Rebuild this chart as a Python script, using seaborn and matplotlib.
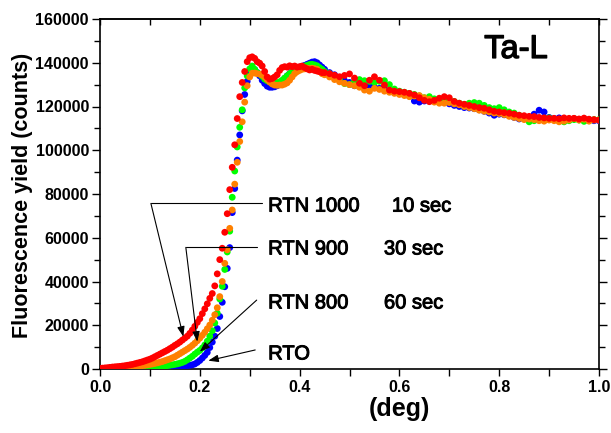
import numpy as np
import pandas as pd
import matplotlib
matplotlib.use("Agg")
import matplotlib.pyplot as plt
import matplotlib.patheffects as pe
import seaborn as sns
from matplotlib.ticker import MultipleLocator

# ---------------- data (fluorescence yield in thousands of counts) ----------------
# sampling grid of the measurement (deg)
x_head = np.round(np.arange(0.0, 0.4451, 0.005), 3)   # 0.000 ... 0.445
x_tail = np.round(np.arange(0.45, 1.0001, 0.01), 2)   # 0.45 ... 1.00

series_names = ["RTO", "RTN 800", "RTN 900", "RTN 1000"]
series_colors = ["#0000ff", "#00ff00", "#ff8000", "#ff0000"]

rto_head = [0.02, 0.02, 0.03, 0.03, 0.04, 0.05, 0.06, 0.07, 0.08, 0.09,
            0.10, 0.11, 0.13, 0.15, 0.17, 0.19, 0.21, 0.24, 0.27, 0.30,
            0.33, 0.37, 0.41, 0.45, 0.50, 0.55, 0.61, 0.68, 0.75, 0.83,
            0.92, 1.02, 1.13, 1.25, 1.40, 1.55, 1.70, 1.90, 2.30, 3.00,
            3.90, 5.00, 6.20, 7.60, 9.80, 12.3, 15.0, 18.5, 24.0, 30.5,
            37.6, 46.0, 55.5, 71.5, 82.5, 95.5, 107.0, 118.0, 125.5, 131.5,
            135.5, 137.4, 136.8, 135.5, 134.0, 132.0, 130.5, 129.3, 128.8, 128.8,
            129.0, 129.5, 130.3, 131.5, 132.8, 134.0, 135.0, 136.0, 136.8, 137.5,
            138.0, 138.3, 138.8, 139.3, 139.8, 140.3, 140.5, 140.0, 139.0, 138.0]
rto_tail = [137.0, 135.5, 134.5, 133.0, 131.8, 131.0, 129.5, 129.8, 130.5, 129.5,
            128.8, 128.3, 128.0, 127.3, 126.5, 126.0, 125.5, 124.8, 122.5, 122.0,
            122.5, 123.0, 122.8, 122.3, 122.0, 121.2, 120.5, 120.0, 119.5, 119.3,
            119.0, 118.5, 117.8, 117.0, 116.0, 116.5, 116.2, 115.8, 115.0, 114.3,
            114.5, 115.0, 116.5, 118.3, 117.5, 115.0, 114.5, 114.8, 114.3, 114.0,
            114.4, 114.0, 113.8, 114.0, 113.5, 113.5]

rtn800_head = [0.05, 0.06, 0.07, 0.08, 0.10, 0.12, 0.14, 0.16, 0.18, 0.20,
               0.23, 0.26, 0.30, 0.34, 0.38, 0.43, 0.48, 0.54, 0.60, 0.67,
               0.75, 0.84, 0.93, 1.03, 1.14, 1.26, 1.40, 1.55, 1.72, 1.90,
               2.10, 2.35, 2.65, 3.00, 3.50, 4.20, 5.00, 5.80, 6.80, 7.70,
               8.50, 9.60, 11.0, 12.7, 15.0, 17.5, 21.0, 25.5, 32.0, 37.8,
               45.5, 53.5, 63.0, 78.5, 90.5, 101.5, 110.5, 118.5, 128.5, 134.0,
               137.2, 138.5, 137.0, 135.5, 134.8, 133.8, 132.5, 131.8, 131.2, 130.8,
               130.5, 130.8, 131.3, 132.0, 133.0, 134.0, 135.0, 135.8, 136.5, 137.0,
               137.6, 138.2, 138.5, 138.8, 139.2, 139.3, 139.0, 138.6, 137.8, 137.0]
rtn800_tail = [136.0, 135.0, 133.8, 132.5, 130.5, 130.0, 131.5, 132.3, 131.8, 131.5,
               131.0, 131.5, 131.8, 130.0, 128.0, 127.0, 126.5, 126.0, 125.5, 124.8,
               124.0, 124.5, 123.5, 123.0, 123.5, 123.0, 122.3, 121.5, 121.0, 121.5,
               121.8, 121.5, 120.5, 119.5, 119.0, 119.5, 118.5, 117.5, 117.0, 116.0,
               114.5, 113.0, 113.5, 114.0, 114.5, 114.8, 114.0, 113.5, 113.0, 113.5,
               114.0, 113.8, 113.2, 113.5, 114.0, 114.0]

rtn900_head = [0.10, 0.15, 0.20, 0.25, 0.30, 0.35, 0.40, 0.45, 0.50, 0.60,
               0.70, 0.80, 0.90, 1.00, 1.10, 1.25, 1.40, 1.55, 1.70, 1.90,
               2.10, 2.30, 2.55, 2.80, 3.10, 3.40, 3.80, 4.20, 4.60, 5.10,
               5.60, 6.30, 7.00, 7.70, 8.40, 9.10, 9.90, 10.8, 11.8, 12.9,
               14.1, 15.4, 16.8, 18.4, 20.1, 22.3, 24.8, 28.0, 33.1, 40.0,
               48.3, 54.5, 64.3, 72.7, 84.5, 94.5, 104.0, 113.0, 122.0, 129.5,
               133.5, 135.2, 135.3, 135.0, 134.8, 134.4, 133.5, 132.3, 131.2, 130.3,
               129.8, 129.7, 129.8, 129.8, 130.2, 130.8, 132.0, 133.5, 135.0, 135.9,
               136.5, 137.0, 137.2, 137.5, 137.3, 137.5, 137.3, 137.0, 136.0, 135.0]
rtn900_tail = [134.5, 133.5, 132.3, 131.3, 130.6, 130.0, 129.5, 128.8, 127.5, 127.0,
               128.3, 127.8, 127.0, 126.5, 126.0, 125.5, 125.0, 124.5, 124.8, 125.0,
               124.0, 123.3, 122.0, 121.5, 121.5, 121.8, 121.2, 120.8, 120.0, 119.5,
               119.0, 118.3, 117.8, 117.5, 117.0, 116.8, 116.3, 115.5, 115.0, 114.5,
               114.0, 114.3, 114.0, 113.5, 113.3, 113.8, 113.5, 113.0, 113.3, 113.8,
               114.5, 113.8, 114.2, 113.3, 113.8, 113.8]

rtn1000_head = [0.30, 0.40, 0.50, 0.60, 0.75, 0.90, 1.00, 1.10, 1.20, 1.35,
                1.50, 1.70, 1.90, 2.10, 2.40, 2.70, 3.00, 3.30, 3.70, 4.10,
                4.50, 5.00, 5.60, 6.20, 6.80, 7.40, 8.00, 8.60, 9.30, 10.0,
                10.8, 11.5, 12.3, 13.2, 14.1, 15.0, 16.3, 17.8, 19.5, 21.3,
                23.0, 25.3, 27.5, 29.8, 32.3, 34.5, 38.0, 43.5, 50.0, 55.2,
                62.5, 71.0, 82.0, 92.2, 102.5, 114.5, 124.5, 131.0, 136.0, 140.5,
                142.3, 142.7, 142.0, 140.5, 139.8, 138.5, 136.0, 133.5, 132.5, 132.8,
                133.5, 134.5, 136.5, 137.8, 138.2, 138.0, 138.6, 138.2, 138.5, 138.0,
                138.2, 138.5, 137.8, 137.2, 136.7, 137.0, 136.5, 136.2, 135.9, 135.5]
rtn1000_tail = [135.5, 135.0, 134.3, 133.6, 134.2, 134.9, 133.0, 130.6, 129.5, 132.0,
                133.6, 132.0, 129.8, 127.5, 127.0, 126.8, 126.5, 126.0, 125.3, 124.0,
                122.8, 122.2, 122.8, 123.8, 124.5, 124.0, 122.3, 121.5, 121.0, 120.5,
                120.0, 119.5, 119.2, 118.5, 117.8, 117.5, 117.2, 116.9, 116.5, 116.0,
                115.8, 115.5, 115.4, 115.0, 114.8, 114.6, 114.6, 114.4, 114.8, 114.6,
                114.6, 114.3, 114.7, 114.2, 114.0, 113.8]

series_k = {
    "RTO": rto_head + rto_tail,
    "RTN 800": rtn800_head + rtn800_tail,
    "RTN 900": rtn900_head + rtn900_tail,
    "RTN 1000": rtn1000_head + rtn1000_tail,
}
x_all = np.concatenate([x_head, x_tail])

frames = []
for name in series_names:
    vals = np.asarray(series_k[name], dtype=float) * 1000.0
    assert len(vals) == len(x_all), (name, len(vals), len(x_all))
    frames.append(pd.DataFrame({"deg": x_all, "counts": vals, "sample": name}))
df = pd.concat(frames, ignore_index=True)

# annotation labels
ann_names = ["RTN 1000", "RTN 900", "RTN 800", "RTO"]
ann_times = ["10 sec", "30 sec", "60 sec", ""]

# ---------------- drawing ----------------
sns.set_theme(style="white")
plt.rcParams["font.family"] = ["Liberation Sans", "DejaVu Sans"]

W, H = 611, 433
fig = plt.figure(figsize=(W / 100, H / 100), dpi=100)
L, R, T, B = 100, 599, 19, 369
ax = fig.add_axes([L / W, 1 - B / H, (R - L) / W, (B - T) / H])

palette = dict(zip(series_names, series_colors))
sns.scatterplot(data=df, x="deg", y="counts", hue="sample", hue_order=series_names,
                palette=palette, s=24, linewidth=0, alpha=1.0, legend=False,
                ax=ax, zorder=3)

ax.set_xlim(0.0, 1.0)
ax.set_ylim(0, 160000)

# spines
for sp in ax.spines.values():
    sp.set_visible(True)
    sp.set_color("black")
    sp.set_linewidth(1.2)

# ticks
ax.xaxis.set_major_locator(MultipleLocator(0.2))
ax.xaxis.set_minor_locator(MultipleLocator(0.1))
ax.yaxis.set_major_locator(MultipleLocator(20000))
ax.yaxis.set_minor_locator(MultipleLocator(10000))
ax.tick_params(axis="x", which="both", direction="out", bottom=True, top=False,
               length=5, width=1.0, color="black", pad=3)
ax.tick_params(axis="y", which="major", direction="out", left=True, right=True,
               length=6, width=1.0, color="black", pad=2)
ax.tick_params(axis="y", which="minor", direction="out", left=True, right=True,
               length=4, width=1.0, color="black")
for lab in ax.get_xticklabels() + ax.get_yticklabels():
    lab.set_fontsize(11.5)
    lab.set_fontweight("bold")
    lab.set_color("black")

top = ax.secondary_xaxis("top")
top.xaxis.set_major_locator(MultipleLocator(0.1))
top.tick_params(axis="x", direction="in", length=4, width=1.0, labeltop=False, color="black")
top.spines["top"].set_linewidth(1.2)

ax.set_xlabel("(deg)", fontsize=18, fontweight="bold", color="black")
ax.xaxis.set_label_coords(0.6, -0.08)
ax.set_ylabel("Fluorescence yield (counts)", fontsize=15.5, fontweight="bold", color="black")
ax.yaxis.set_label_coords(-0.135, 0.497)

# annotations
arrow_kw = dict(arrowstyle="-|>,head_length=0.6,head_width=0.22", color="black",
                lw=0.8, shrinkA=0, shrinkB=0, mutation_scale=10)
line_kw = dict(color="black", lw=0.8, zorder=4)

# RTN 1000
ax.plot([0.102, 0.325], [75700, 75700], **line_kw)
ax.annotate("", xy=(0.167, 14800), xytext=(0.102, 75700), arrowprops=arrow_kw, zorder=4)
# RTN 900
ax.plot([0.172, 0.314], [55600, 55600], **line_kw)
ax.annotate("", xy=(0.195, 12500), xytext=(0.172, 55600), arrowprops=arrow_kw, zorder=4)
# RTN 800
ax.annotate("", xy=(0.200, 7900), xytext=(0.314, 31500), arrowprops=arrow_kw, zorder=4)
# RTO
ax.annotate("", xy=(0.217, 3800), xytext=(0.311, 8700), arrowprops=arrow_kw, zorder=4)

semi = [pe.withStroke(linewidth=0.7, foreground="black")]
txt_kw = dict(fontsize=14.5, color="black", va="center_baseline", ha="left",
              path_effects=semi)
name_y = [75400, 55800, 31100, 7800]
time_x = [0.585, 0.569, 0.569, 0.569]
for nm, tm, yy, tx in zip(ann_names, ann_times, name_y, time_x):
    ax.text(0.337, yy, nm, **txt_kw)
    if tm:
        ax.text(tx, yy, tm, **txt_kw)

ax.text(0.77, 147700, "Ta-L", fontsize=23.5, color="black",
        va="center_baseline", ha="left",
        path_effects=[pe.withStroke(linewidth=1.0, foreground="black")])

fig.savefig("out.png", dpi=100)
